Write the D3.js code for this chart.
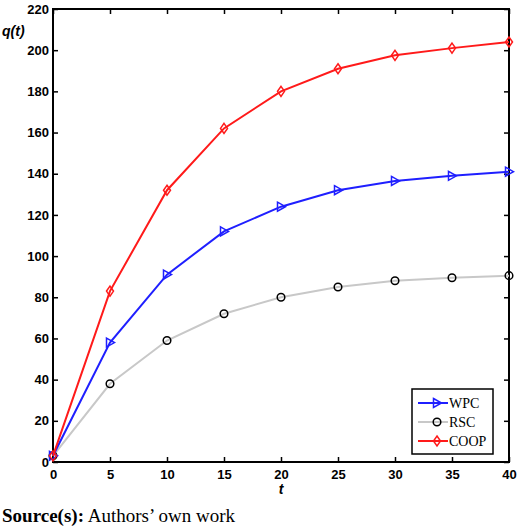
<!DOCTYPE html>
<html><head><meta charset="utf-8">
<script src="https://cdn.jsdelivr.net/npm/d3@7"></script>
<style>body{margin:0;background:#fff}</style>
</head><body>
<svg id="c" width="520" height="532"></svg>
<script>
const tValues = [0, 5, 10, 15, 20, 25, 30, 35, 40];
const wpc = [3, 58, 91, 112, 124, 132, 136.5, 139, 141];
const rsc = [3, 38, 59, 72, 80, 85, 88, 89.5, 90.5];
const coop = [3, 83, 132, 162, 180, 191, 197.5, 201, 204];
const xTicks = [0, 5, 10, 15, 20, 25, 30, 35, 40];
const yTicks = [0, 20, 40, 60, 80, 100, 120, 140, 160, 180, 200, 220];

const svg = d3.select("#c");
const plotL = 53, plotR = 509, plotT = 9, plotB = 462;
const x = d3.scaleLinear().domain([0, 40]).range([plotL, plotR]);
const y = d3.scaleLinear().domain([0, 220]).range([plotB, plotT]);
const font = "Arial, 'Liberation Sans', sans-serif";

// inward ticks on all four sides
const addAxis = (axis, tr, labels) => {
  const g = svg.append("g").attr("transform", tr).call(axis);
  g.select(".domain").remove();
  g.selectAll("line").attr("stroke", "#000").attr("stroke-width", 1.5);
  g.selectAll("text").attr("font-family", font).attr("font-size", 13)
    .attr("font-weight", "bold").attr("fill", "#000");
  if (!labels) g.selectAll("text").remove();
};
addAxis(d3.axisBottom(x).tickValues(xTicks).tickSize(-5).tickPadding(8), `translate(0,${plotB})`, true);
addAxis(d3.axisTop(x).tickValues(xTicks).tickSize(-5), `translate(0,${plotT})`, false);
addAxis(d3.axisLeft(y).tickValues(yTicks).tickSize(-5).tickPadding(4), `translate(${plotL},0)`, true);
addAxis(d3.axisRight(y).tickValues(yTicks).tickSize(-5), `translate(${plotR},0)`, false);

svg.append("rect").attr("x", plotL).attr("y", plotT).attr("width", plotR - plotL).attr("height", plotB - plotT)
  .attr("fill", "none").attr("stroke", "#000").attr("stroke-width", 2);

const line = d3.line().x((d, i) => x(tValues[i])).y(d => y(d));
const series = [
  { name: "RSC", vals: rsc, color: "#c8c8c8", marker: "circle" },
  { name: "WPC", vals: wpc, color: "#1f1fff", marker: "tri" },
  { name: "COOP", vals: coop, color: "#ff1a1a", marker: "diamond" },
];

const drawMarker = (g, cx, cy, s) => {
  if (s.marker === "circle") {
    g.append("circle").attr("cx", cx).attr("cy", cy).attr("r", 3.8)
      .attr("fill", "none").attr("stroke", "#000").attr("stroke-width", 1.5);
  } else if (s.marker === "tri") {
    g.append("path").attr("d", `M${cx - 3.5},${cy - 4.5}L${cx + 4.5},${cy}L${cx - 3.5},${cy + 4.5}Z`)
      .attr("fill", "none").attr("stroke", s.color).attr("stroke-width", 1.5);
  } else {
    g.append("path").attr("d", `M${cx},${cy - 5}L${cx + 3.5},${cy}L${cx},${cy + 5}L${cx - 3.5},${cy}Z`)
      .attr("fill", "none").attr("stroke", s.color).attr("stroke-width", 1.5);
  }
};

series.forEach(s => {
  svg.append("path").datum(s.vals).attr("d", line).attr("fill", "none")
    .attr("stroke", s.color).attr("stroke-width", 2);
  const g = svg.append("g");
  s.vals.forEach((v, i) => drawMarker(g, x(tValues[i]), y(v), s));
});

// legend
const lg = svg.append("g");
lg.append("rect").attr("x", 412).attr("y", 389).attr("width", 81).attr("height", 65)
  .attr("fill", "#fff").attr("stroke", "#000").attr("stroke-width", 1.5);
[series[1], series[0], series[2]].forEach((s, i) => {
  const ly = 403 + i * 19;
  lg.append("line").attr("x1", 418).attr("x2", 448).attr("y1", ly).attr("y2", ly)
    .attr("stroke", s.color).attr("stroke-width", 2);
  drawMarker(lg, 437, ly, s);
  lg.append("text").attr("x", 449).attr("y", ly + 5).text(s.name)
    .attr("font-family", "'Liberation Serif', serif").attr("font-size", 14);
});

// axis titles
svg.append("text").attr("x", 2).attr("y", 36).attr("font-family", font).attr("font-size", 14)
  .attr("font-style", "italic").attr("font-weight", "bold").text("q(t)");
svg.append("text").attr("x", x(20)).attr("y", 494).attr("text-anchor", "middle").attr("font-family", font)
  .attr("font-size", 14).attr("font-style", "italic").attr("font-weight", "bold").text("t");

const src = svg.append("text").attr("x", 2).attr("y", 522)
  .attr("font-family", "'Liberation Serif', serif").attr("font-size", 19);
src.append("tspan").attr("font-weight", "bold").text("Source(s):");
src.append("tspan").text(" Authors’ own work");
</script>
</body></html>
